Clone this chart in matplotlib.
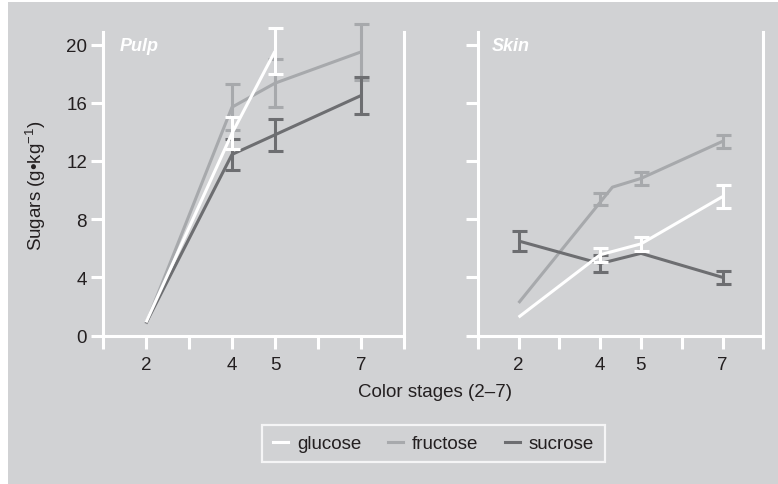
import numpy as np
import matplotlib
matplotlib.use("Agg")
import matplotlib.pyplot as plt
from matplotlib.patches import Rectangle
from matplotlib.lines import Line2D

plt.rcParams['font.family'] = ['Liberation Sans', 'DejaVu Sans']
plt.rcParams['mathtext.fontset'] = 'custom'
plt.rcParams['mathtext.rm'] = 'Liberation Sans'
plt.rcParams['mathtext.it'] = 'Liberation Sans:italic'

# ---- data ----
tick_positions = [1, 2, 3, 4, 5, 6, 7, 8]
tick_labels = ['', '2', '', '4', '5', '', '7', '']
y_ticks = [0, 4, 8, 12, 16, 20]

series_names = ['glucose', 'fructose', 'sucrose']

# Pulp
pulp_glucose_x = [2, 4, 5]
pulp_glucose = [0.9, 13.9, 19.55]
pulp_glucose_err = [0, 1.1, 1.6]
pulp_fructose_x = [2, 4, 5, 7]
pulp_fructose = [0.8, 15.7, 17.35, 19.5]
pulp_fructose_err = [0, 1.6, 1.65, 1.9]
pulp_sucrose_x = [2, 4, 5, 7]
pulp_sucrose = [0.85, 12.45, 13.8, 16.5]
pulp_sucrose_err = [0, 1.05, 1.1, 1.3]

# Skin
skin_glucose_x = [2, 4, 5, 7]
skin_glucose = [1.26, 5.55, 6.3, 9.55]
skin_glucose_err = [0, 0.5, 0.47, 0.8]
skin_fructose_line_x = [2, 4.3, 5, 7]
skin_fructose_line = [2.24, 10.2, 10.8, 13.35]
skin_fructose_x = [4, 5, 7]
skin_fructose = [9.4, 10.8, 13.35]
skin_fructose_err = [0.43, 0.42, 0.45]
skin_sucrose_x = [2, 4, 5, 7]
skin_sucrose = [6.5, 4.95, 5.65, 4.0]
skin_sucrose_err = [0.66, 0.57, 0, 0.43]

# ---- style ----
BG = '#d1d2d4'
C_GLU = '#ffffff'
C_FRU = '#a7a9ac'
C_SUC = '#6d6e71'
TXT = '#231f20'
LW = 2.2
FS = 13.5

fig = plt.figure(figsize=(7.78, 4.85), dpi=100)
fig.patch.set_facecolor('white')
fig.patches.append(Rectangle((8 / 778, 0), 1 - 8 / 778, 1 - 3 / 485,
                             transform=fig.transFigure, facecolor=BG,
                             edgecolor='none', zorder=-10))

ax_p = fig.add_axes([103 / 778, 1 - 336.5 / 485, 301 / 778, 303.5 / 485])
ax_s = fig.add_axes([477.8 / 778, 1 - 336.5 / 485, 285.5 / 778, 303.5 / 485])


def style_axis(ax, show_ylabels):
    ax.set_facecolor('none')
    ax.set_xlim(1, 8)
    ax.set_ylim(0, 20.87)
    for s in ['left', 'right', 'bottom']:
        ax.spines[s].set_color('white')
        ax.spines[s].set_linewidth(LW)
    ax.spines['top'].set_visible(False)
    ax.set_xticks(tick_positions)
    ax.set_xticklabels(tick_labels)
    ax.set_yticks(y_ticks)
    if not show_ylabels:
        ax.set_yticklabels([])
    ax.tick_params(axis='x', direction='out', length=9.5, width=LW,
                   color='white', labelsize=FS, labelcolor=TXT, pad=5)
    ax.tick_params(axis='y', direction='out', length=8.5, width=LW,
                   color='white', labelsize=FS, labelcolor=TXT, pad=3)
    ax.tick_params(axis='y', which='both', right=False)


def draw_series(ax, x, y, err, color, z, line_x=None, line_y=None):
    lx = x if line_x is None else line_x
    ly = y if line_y is None else line_y
    ax.plot(lx, ly, color=color, lw=LW, zorder=z, solid_capstyle='butt',
            clip_on=False)
    xe = [xi for xi, e in zip(x, err) if e > 0]
    ye = [yi for yi, e in zip(y, err) if e > 0]
    ee = [e for e in err if e > 0]
    ax.errorbar(xe, ye, yerr=ee, fmt='none', ecolor=color, elinewidth=LW,
                capsize=5.4, capthick=LW, zorder=z, clip_on=False)


style_axis(ax_p, True)
style_axis(ax_s, False)

draw_series(ax_p, pulp_fructose_x, pulp_fructose, pulp_fructose_err, C_FRU, 3)
draw_series(ax_p, pulp_sucrose_x, pulp_sucrose, pulp_sucrose_err, C_SUC, 4)
draw_series(ax_p, pulp_glucose_x, pulp_glucose, pulp_glucose_err, C_GLU, 5)

draw_series(ax_s, skin_fructose_x, skin_fructose, skin_fructose_err, C_FRU, 3,
            line_x=skin_fructose_line_x, line_y=skin_fructose_line)
draw_series(ax_s, skin_sucrose_x, skin_sucrose, skin_sucrose_err, C_SUC, 4)
draw_series(ax_s, skin_glucose_x, skin_glucose, skin_glucose_err, C_GLU, 5)

ax_p.text(0.057, 0.985, 'Pulp', transform=ax_p.transAxes, color='white',
          fontsize=13, fontweight='bold', fontstyle='italic', va='top', ha='left')
ax_s.text(0.049, 0.985, 'Skin', transform=ax_s.transAxes, color='white',
          fontsize=13, fontweight='bold', fontstyle='italic', va='top', ha='left')

fig.text(36 / 778, 1 - 186 / 485, 'Sugars (g\u2022kg$^{-1}$)', rotation=90,
         ha='center', va='center', fontsize=FS, color=TXT)
fig.text(435 / 778, 1 - 393 / 485, 'Color stages (2\u20137)', ha='center',
         va='center', fontsize=FS, color=TXT)

handles = [Line2D([], [], color=c, lw=LW) for c in (C_GLU, C_FRU, C_SUC)]
leg = fig.legend(handles, series_names, loc='center', ncol=3,
                 bbox_to_anchor=(433.5 / 778, 1 - 444.5 / 485),
                 frameon=True, fancybox=False, fontsize=FS,
                 handlelength=0.8, handletextpad=0.5, columnspacing=1.4,
                 borderpad=0.55, labelcolor=TXT)
leg.get_frame().set_facecolor('none')
leg.get_frame().set_edgecolor('white')
leg.get_frame().set_linewidth(1.6)

fig.savefig('out.png', dpi=100)
